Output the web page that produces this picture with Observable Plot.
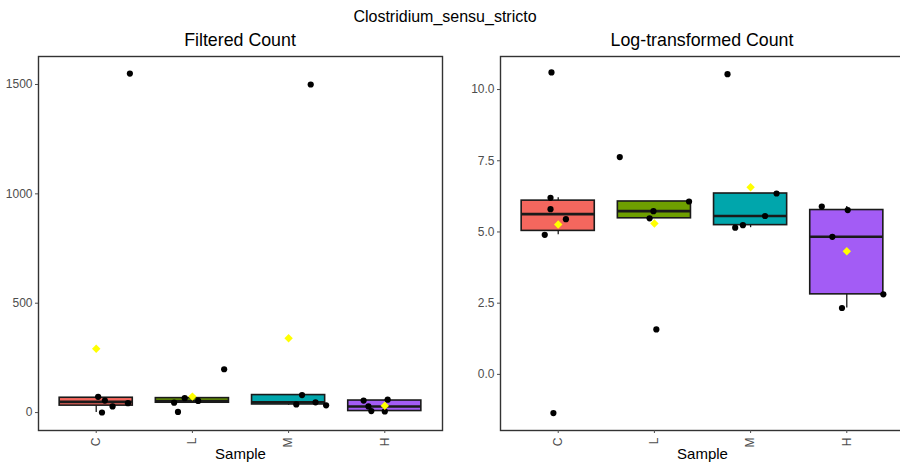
<!DOCTYPE html>
<html><head><meta charset="utf-8">
<script src="https://cdn.jsdelivr.net/npm/d3@7"></script>
<script src="https://cdn.jsdelivr.net/npm/@observablehq/plot@0.6"></script>
<style>
html,body{margin:0;padding:0;background:#fff;}
body{width:900px;height:465px;overflow:hidden;position:relative;font-family:"Liberation Sans",Arial,sans-serif;}
.t{position:absolute;white-space:nowrap;transform:translateX(-50%);color:#000;line-height:1;}
#sup{left:445px;top:9px;font-size:16px;}
#t1{left:240px;top:31.6px;font-size:17.8px;}
#t2{left:702px;top:31.6px;font-size:17.8px;}
.panel{position:absolute;top:50px;}
.panel svg{max-width:none !important;display:block;}
#p1{left:0;width:450px;}
#p2{left:450px;width:460px;}
</style>
</head><body>
<div class="t" id="sup">Clostridium_sensu_stricto</div>
<div class="t" id="t1">Filtered Count</div>
<div class="t" id="t2">Log-transformed Count</div>
<div class="panel" id="p1"></div>
<div class="panel" id="p2"></div>
<script>
// categories and fills
const samples = ["C", "L", "M", "H"];
const fillColors = ["#F4675E", "#6E9F00", "#00A6AC", "#A35CF5"];

// Filtered Count (left panel), per sample
const filteredC = [1550, 72, 55, 43, 28, 0.4];
const filteredL = [198, 66, 53, 45, 3];
const filteredM = [1500, 80, 47, 37, 33];
const filteredH = [59, 55, 28, 7, 5];
// horizontal jitter (in category units)
const filteredJitterC = [0.35, 0.02, 0.09, 0.33, 0.17, 0.06];
const filteredJitterL = [0.33, -0.08, 0.06, -0.19, -0.15];
const filteredJitterM = [0.23, 0.14, 0.28, 0.08, 0.39];
const filteredJitterH = [0.03, -0.22, -0.17, -0.14, 0.0];

// Log-transformed Count (right panel), per sample
const logC = [10.6, 6.2, 5.8, 5.45, 4.9, -1.36];
const logL = [7.63, 6.07, 5.73, 5.48, 1.58];
const logM = [10.54, 6.35, 5.56, 5.24, 5.15];
const logH = [5.89, 5.77, 4.83, 2.81, 2.33];
const logJitterC = [-0.07, -0.08, -0.08, 0.08, -0.14, -0.05];
const logJitterL = [-0.36, 0.36, -0.01, -0.05, 0.02];
const logJitterM = [-0.24, 0.27, 0.15, -0.08, -0.16];
const logJitterH = [-0.26, 0.01, -0.15, 0.38, -0.05];

// axis ticks
const filteredTicks = [0, 500, 1000, 1500];
const logTicks = [0, 2.5, 5, 7.5, 10];

function buildPanel(groups, jitters, yDomain, yTicks, yFmt, opts) {
  const points = [];
  const stats = [];
  groups.forEach((vals, k) => {
    const i = k + 1;
    vals.forEach((v, m) => points.push({i, j: jitters[k][m], v, sample: samples[k]}));
    const s = vals.slice().sort(d3.ascending);
    const q1 = d3.quantile(s, 0.25), median = d3.quantile(s, 0.5), q3 = d3.quantile(s, 0.75);
    const iqr = q3 - q1;
    const lo = d3.min(s.filter(v => v >= q1 - 1.5 * iqr));
    const hi = d3.max(s.filter(v => v <= q3 + 1.5 * iqr));
    stats.push({i, sample: samples[k], q1, median, q3, lo, hi, mean: d3.mean(s)});
  });
  const hw = 0.38;
  return Plot.plot({
    width: opts.width,
    height: 415,
    marginLeft: opts.marginLeft,
    marginRight: opts.marginRight,
    marginTop: 6,
    marginBottom: 35,
    style: {fontFamily: "Liberation Sans, Arial, sans-serif", fontSize: "12px", color: "#4d4d4d", background: "transparent", overflow: "visible", maxWidth: "none"},
    x: {domain: [0.4, 4.6]},
    y: {domain: yDomain},
    color: {domain: samples, range: fillColors},
    marks: [
      Plot.ruleX(stats, {x: "i", y1: "q3", y2: "hi", stroke: "#1a1a1a", strokeWidth: 1.3}),
      Plot.ruleX(stats, {x: "i", y1: "lo", y2: "q1", stroke: "#1a1a1a", strokeWidth: 1.3}),
      Plot.rect(stats, {x1: d => d.i - hw, x2: d => d.i + hw, y1: "q1", y2: "q3", fill: "sample", stroke: "#1a1a1a", strokeWidth: 1.6}),
      Plot.ruleY(stats, {x1: d => d.i - hw, x2: d => d.i + hw, y: "median", stroke: "#1a1a1a", strokeWidth: 2.6}),
      Plot.dot(points, {x: d => d.i + d.j, y: "v", r: 3.1, fill: "black"}),
      Plot.dot(stats, {x: "i", y: "mean", symbol: "diamond2", r: 3.8, fill: "#FFFF00"}),
      Plot.frame({stroke: "#333", strokeWidth: 1.4}),
      Plot.axisY({ticks: yTicks, tickFormat: yFmt, tickSize: 3, tickPadding: 3, label: null}),
      Plot.axisX({ticks: [1, 2, 3, 4], tickFormat: i => samples[i - 1], tickRotate: -90, tickSize: 3, tickPadding: 4, label: null}),
      Plot.text(["Sample"], {text: d => d, frameAnchor: "bottom", lineAnchor: "top", dy: 18, fontSize: 15, fill: "black"})
    ]
  });
}

document.getElementById("p1").append(buildPanel(
  [filteredC, filteredL, filteredM, filteredH],
  [filteredJitterC, filteredJitterL, filteredJitterM, filteredJitterH],
  [-82, 1628], filteredTicks, d3.format("d"),
  {width: 450, marginLeft: 38, marginRight: 8}
));
document.getElementById("p2").append(buildPanel(
  [logC, logL, logM, logH],
  [logJitterC, logJitterL, logJitterM, logJitterH],
  [-1.97, 11.16], logTicks, d3.format(".1f"),
  {width: 460, marginLeft: 50, marginRight: 6}
));
</script>
</body></html>
